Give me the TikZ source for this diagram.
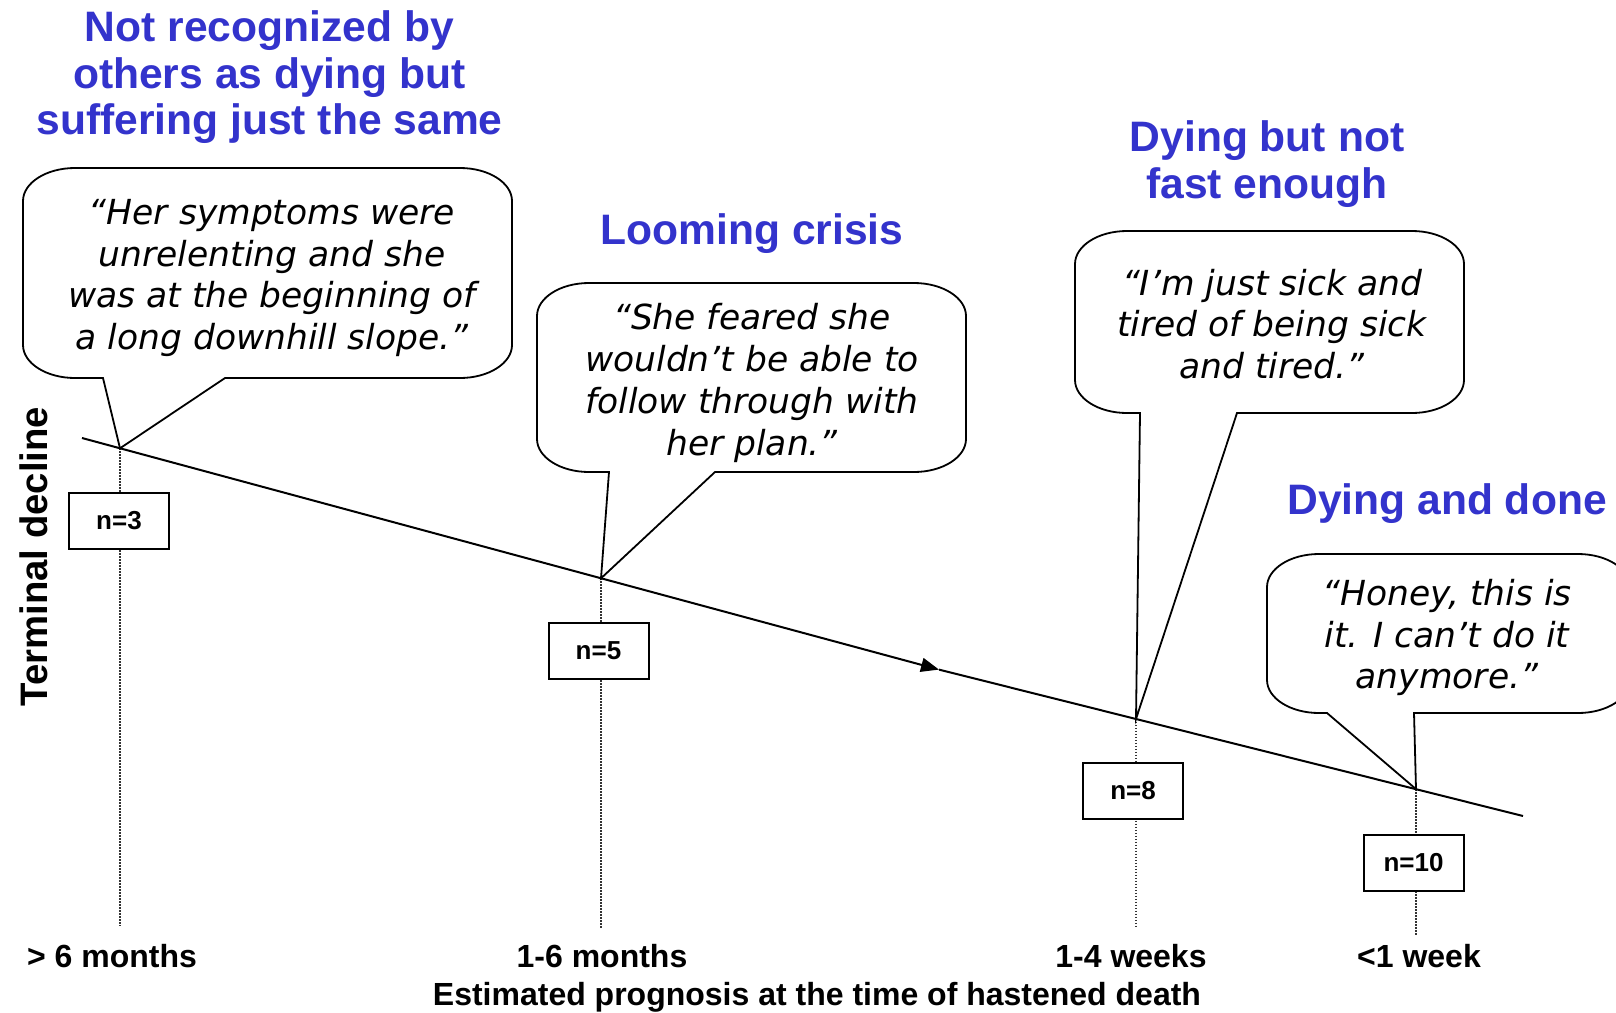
\documentclass[tikz,border=0pt]{standalone}
\usepackage{fontspec}
\setmainfont{Liberation Sans}
\newfontfamily\qfont{DejaVu Sans}[ItalicFont={DejaVu Sans Oblique}]
\usetikzlibrary{arrows.meta}
\definecolor{ttlblue}{RGB}{51,51,204}
% L T R B tailL tailR tip
\newcommand\mybubble[7]{%
  \draw[bubble] ({#1+52},#2) -- ({#3-52},#2)
    .. controls ({#3-23},#2) and (#3,{#2+15}) .. (#3,{#2+33})
    -- (#3,{#4-33})
    .. controls (#3,{#4-15}) and ({#3-23},#4) .. ({#3-52},#4)
    -- (#6,#4) -- (#7) -- (#5,#4) -- ({#1+52},#4)
    .. controls ({#1+23},#4) and (#1,{#4-15}) .. (#1,{#4-33})
    -- (#1,{#2+33})
    .. controls (#1,{#2+15}) and ({#1+23},#2) .. cycle;}
\begin{document}
\begin{tikzpicture}[x=1pt,y=-1pt,
  bubble/.style={draw=black,line width=1.8,fill=white,line join=miter},
  mainline/.style={line width=2,draw=black},
  dots/.style={line width=1.2,dash pattern=on 1.4pt off 1.6pt,draw=black!80},
  ttl/.style={text=ttlblue,font={\fontsize{42.6}{46.4}\selectfont\bfseries},align=center,inner sep=0},
  qt/.style={font={\qfont\itshape\fontsize{34.5}{41.7}\selectfont},align=center,inner sep=0},
  lab/.style={font={\fontsize{32}{38}\selectfont\bfseries},anchor=base,inner sep=0},
  nbox/.style={draw=black,line width=2,fill=white,minimum width=100,minimum height=56,inner sep=0,font={\fontsize{26}{30}\selectfont\bfseries}}]
\path[use as bounding box,fill=white] (0,0) rectangle (1616,1012);
% line points
\coordinate (s) at (82,438);
\coordinate (m) at (939,669.6);
\coordinate (e) at (1523,816);
\coordinate (p1) at (120,448.3);
\coordinate (p2) at (601,578.3);
\coordinate (p3) at (1136,718.9);
\coordinate (p4) at (1416,789.1);
\coordinate (d1) at (120,926);
\coordinate (d2) at (601,928);
\coordinate (d3) at (1136,926);
\coordinate (d4) at (1416,936);
% dotted guides
\draw[dots] (p1) -- (d1);
\draw[dots] (p2) -- (d2);
\draw[dots] (p3) -- (d3);
\draw[dots] (p4) -- (d4);
% main trajectory
\draw[mainline,-{Triangle[length=18pt,width=14pt]}] (s) -- (m);
\draw[mainline] (m) -- (e);
% callouts
\mybubble{23}{168}{512}{378}{103}{225}{p1}
\mybubble{537}{283}{966}{472}{609}{715}{p2}
\mybubble{1075}{231}{1464}{413}{1140}{1237}{p3}
\mybubble{1267}{554}{1630}{713}{1327}{1414}{p4}
\node[qt] (q1) at (272,278) {“Her symptoms were\\unrelenting and she\\was at the beginning of\\a long downhill slope.”};
\node[qt] (q2) at (752,383) {“She feared she\\wouldn’t be able to\\follow through with\\her plan.”};
\node[qt] (q3) at (1272,324) {“I’m just sick and\\tired of being sick\\and tired.”};
\node[qt] (q4) at (1447,637.5) {“Honey, this is\\it. I can’t do it\\anymore.”};
% n boxes
\node[nbox] (n1) at (119,521) {n=3};
\node[nbox] (n2) at (598.5,650.5) {n=5};
\node[nbox] (n3) at (1133,791) {n=8};
\node[nbox] (n4) at (1413.5,863) {n=10};
% titles
\node[ttl] (t1) at (269.5,77.4) {Not recognized by\\others as dying but\\suffering just the same};
\node[ttl,anchor=base] (t2) at (752,244) {Looming crisis};
\node[ttl] (t3) at (1267,164) {Dying but not\\fast enough};
\node[ttl,anchor=base] (t4) at (1447,514) {Dying and done};
% axes labels
\node[font={\fontsize{38.3}{42}\selectfont\bfseries},rotate=90,inner sep=0] (yl) at (34,556.5) {Terminal decline};
\node[lab] (x1) at (112,967) {> 6 months};
\node[lab] (x2) at (602,967) {1-6 months};
\node[lab] (x3) at (1131,967) {1-4 weeks};
\node[lab] (x4) at (1419,967) {<1 week};
\node[lab] (xl) at (817,1005) {Estimated prognosis at the time of hastened death};
\end{tikzpicture}
\end{document}
